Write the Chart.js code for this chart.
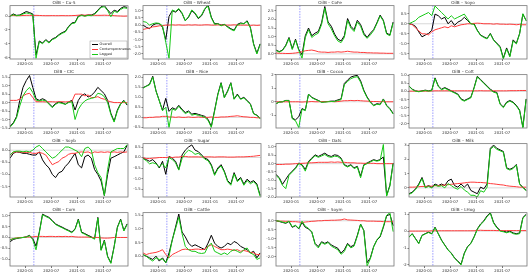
<!DOCTYPE html>
<html>
<head>
<meta charset="utf-8">
<script src="https://cdn.jsdelivr.net/npm/chart.js@4"></script>
<style>
  body { margin: 0; background: #fff; }
  #grid { position: relative; width: 532px; height: 276px; }
  #grid canvas { position: absolute; }
</style>
</head>
<body>
<div id="grid"></div>
<script>
// sample dates, in months since 2020-01
var months = [-3.5, -2.75, -2, -1.25, -0.5, 0.25, 1, 1.75, 2.5, 3.25, 4, 4.75, 5.5, 6.25, 7, 7.75, 8.5, 9.25, 10,
  10.75, 11.5, 12.25, 13, 13.75, 14.5, 15.25, 16, 16.75, 17.5, 18.25, 19, 19.75, 20.5, 21.25, 22, 22.75, 23.5];
var xTicks = [0, 6, 12, 18];
var xTickLabels = ["2020-01", "2020-07", "2021-01", "2021-07"];
var shockMonth = 2.0;
var seriesNames = ["Overall", "Contemporaneous", "Lagged"];

// OilB - Cu-S
var cusOverall = [0.0, 0.3, 0.1, 0.15, 0.4, 0.65, 0.5, 0.3, -5.6, -3.6, -3.9, -3.4, -3.8, -3.3, -3.1, -2.7, -2.4, -2.2, -1.5, -1.0, -0.9, 0.0, 0.15, 0.05, 0.15, 0.15, 0.35, 0.85, 1.35, 1.5, 0.9, 0.35, 0.85, 0.65, 1.1, 1.35, 1.25];
var cusContemp = [0.05, 0.08, 0.05, 0.05, 0.08, 0.1, 0.1, 0.08, 0.1, 0.08, 0.06, 0.05, 0.05, 0.06, 0.05, 0.05, 0.06, 0.05, 0.05, 0.06, 0.08, 0.12, 0.15, 0.12, 0.15, 0.12, 0.1, 0.1, 0.1, 0.12, 0.1, 0.08, 0.05, 0.02, 0.0, -0.02, 0.0];
var cusLagged = [-0.05, 0.2, 0.05, 0.1, 0.3, 0.45, 0.35, 0.2, -6.1, -3.7, -4.0, -3.5, -3.9, -3.4, -3.2, -2.8, -2.5, -2.3, -1.6, -1.1, -1.0, -0.1, 0.1, -0.05, 0.1, 0.05, 0.25, 0.75, 1.25, 1.35, 0.8, -0.1, 0.7, 0.5, 0.95, 1.2, 1.1];

// OilB - Wheat
var wheatOverall = [0.0, -0.15, -0.25, 0.0, 0.1, 0.1, -0.15, -1.0, 0.6, 1.0, 0.9, 1.1, 0.8, 0.3, 0.55, 1.0, 0.8, 0.45, 0.65, 1.1, 1.4, 0.55, 0.1, 0.1, 0.0, 0.05, -0.1, -0.25, -0.35, 0.05, 0.15, 0.1, 0.3, -0.15, -1.3, -1.95, -1.3];
var wheatContemp = [-0.3, -0.25, -0.2, -0.12, -0.1, -0.05, -0.03, 0.0, 0.0, 0.02, 0.0, 0.02, 0.0, 0.0, 0.02, 0.0, 0.02, 0.0, 0.0, 0.02, 0.02, 0.0, 0.0, 0.02, 0.0, 0.0, 0.0, 0.0, 0.02, 0.0, 0.0, 0.0, 0.0, -0.02, 0.0, -0.02, 0.0];
var wheatLagged = [0.25, 0.2, 0.0, 0.1, 0.15, 0.12, -0.05, -1.2, -2.3, 1.05, 0.95, 1.15, 0.85, 0.3, 0.6, 1.05, 0.85, 0.5, 0.7, 1.15, 1.3, 0.5, 0.05, 0.1, -0.05, 0.05, -0.15, -0.3, -0.4, 0.0, 0.1, 0.1, 0.25, -0.2, -1.35, -2.0, -1.35];

// OilB - CoFe
var cofeOverall = [0.22, 0.13, 0.22, 0.5, 0.95, 0.3, 0.85, 0.25, -0.05, 1.05, 1.5, 1.05, 1.2, 1.3, 1.8, 2.75, 1.85, 1.6, 1.15, 0.85, 0.75, 1.05, 2.05, 1.6, 1.4, 1.95, 1.7, 1.2, 0.95, 1.2, 1.4, 1.8, 2.25, 1.95, 1.2, 1.1, 1.85];
var cofeContemp = [0.05, 0.03, 0.03, 0.02, 0.02, 0.03, 0.05, 0.08, 0.12, 0.18, 0.2, 0.22, 0.18, 0.12, 0.1, 0.1, 0.08, 0.1, 0.1, 0.12, 0.1, 0.12, 0.15, 0.12, 0.1, 0.1, 0.08, 0.08, 0.06, 0.06, 0.05, 0.05, 0.04, 0.04, 0.03, 0.03, 0.03];
var cofeLagged = [0.2, 0.1, 0.2, 0.45, 0.9, 0.25, 0.8, 0.2, -0.25, 0.95, 1.4, 0.95, 1.1, 1.2, 1.7, 2.65, 1.75, 1.45, 1.05, 0.75, 0.65, 0.95, 1.95, 1.5, 1.3, 1.85, 1.6, 1.1, 0.9, 1.1, 1.35, 1.75, 2.2, 1.9, 1.15, 1.05, 1.8];

// OilB - Soyo
var soyoOverall = [0.0, -0.03, -0.13, -0.4, -0.65, -0.56, -0.48, -0.32, 0.48, 0.4, 0.24, 0.32, 0.0, 0.16, -0.08, 0.08, 0.16, 0.32, 0.16, 0.0, 0.0, -0.32, -0.56, -0.65, -0.73, -0.48, -0.8, -0.97, -1.13, -1.7, -1.2, -1.6, -0.8, -0.97, -0.48, 0.48, 0.16];
var soyoContemp = [0.0, -0.05, -0.2, -0.35, -0.5, -0.5, -0.55, -0.4, -0.3, -0.25, -0.2, -0.15, -0.2, -0.1, -0.15, -0.1, -0.05, -0.03, 0.0, 0.0, 0.02, 0.03, 0.02, 0.0, 0.0, 0.0, -0.02, 0.0, -0.02, -0.02, -0.03, -0.02, -0.03, -0.05, -0.03, -0.05, -0.05];
var soyoLagged = [0.0, 0.08, 0.16, 0.32, 0.4, 0.48, 0.56, 0.4, 0.88, 0.72, 0.56, 0.4, 0.24, 0.4, 0.24, 0.32, 0.4, 0.48, 0.24, 0.0, -0.03, -0.35, -0.58, -0.68, -0.75, -0.5, -0.82, -1.0, -1.18, -1.75, -1.25, -1.65, -0.85, -1.0, -0.5, 0.5, 0.15];

// OilB - CIC
var cicOverall = [-1.4, -1.2, -0.83, 0.13, 0.9, 1.3, 1.6, 0.9, 0.23, 0.13, 0.23, 0.13, -0.06, -0.25, -0.06, 0.04, 0.0, -0.1, 0.04, 0.13, -0.44, 0.13, 0.42, 0.52, 0.33, 0.42, 0.62, 0.9, 0.71, 0.52, 0.13, -0.63, -1.1, -0.44, -0.06, 0.13, -0.15];
var cicContemp = [0.13, 0.13, 0.13, 0.2, 0.4, 0.5, 0.55, 0.3, 0.05, 0.05, 0.05, 0.04, 0.05, 0.05, 0.04, 0.05, 0.05, 0.04, 0.05, 0.06, 0.5, 0.5, 0.5, 0.4, 0.45, 0.3, 0.3, 0.35, 0.25, 0.2, 0.1, 0.05, 0.0, 0.0, 0.0, 0.0, 0.0];
var cicLagged = [-1.45, -1.25, -0.9, -0.2, 0.4, 0.7, 0.9, 0.6, 0.15, 0.1, 0.15, 0.1, -0.1, -0.3, -0.1, 0.0, -0.05, -0.1, 0.0, 0.05, -1.0, -0.4, -0.1, 0.1, 0.2, 0.25, 0.3, 0.55, 0.5, 0.35, 0.0, -0.7, -1.15, -0.5, -0.1, 0.1, -0.1];

// OilB - Rice
var riceOverall = [1.48, 1.56, 1.65, 2.05, 1.32, 0.84, 0.35, 0.95, 0.3, 0.48, 0.4, 0.6, 0.4, 0.24, 0.32, 0.16, 0.2, 0.15, 0.1, 0.05, -0.1, -0.45, 0.35, 1.16, 1.73, 1.0, 1.32, 1.73, 0.92, 1.16, 0.92, 1.0, 0.84, 0.68, 0.19, 0.11, -0.05];
var riceContemp = [-0.02, -0.02, 0.0, 0.0, 0.02, 0.02, 0.05, 0.05, 0.02, 0.02, 0.0, 0.02, 0.0, 0.0, 0.02, 0.0, 0.0, 0.02, 0.0, 0.0, 0.0, 0.02, 0.0, 0.0, 0.02, 0.02, 0.03, 0.05, 0.06, 0.08, 0.05, 0.03, 0.02, 0.0, 0.0, -0.02, -0.02];
var riceLagged = [1.45, 1.55, 1.62, 2.0, 1.3, 0.82, 0.33, 0.5, -0.5, 0.42, 0.35, 0.55, 0.35, 0.19, 0.27, 0.11, 0.15, 0.1, 0.06, 0.0, -0.15, -0.5, 0.3, 1.12, 1.7, 0.97, 1.28, 1.7, 0.9, 1.12, 0.9, 0.97, 0.8, 0.65, 0.17, 0.1, -0.07];

// OilB - Cocoa
var cocoaOverall = [-0.14, -0.02, 0.0, 0.1, 0.1, -1.2, -1.33, -1.1, -0.5, -0.62, 0.57, 0.33, 0.21, 0.1, -0.02, 0.0, 0.02, 0.05, 0.05, 0.14, 0.21, 1.35, 1.6, 1.82, 1.9, 1.95, 1.55, 0.85, 0.35, 0.0, -0.26, -0.14, -0.18, 0.21, -0.26, -0.5, -0.86];
var cocoaContemp = [0.0, 0.0, 0.0, 0.0, 0.0, 0.0, 0.0, 0.0, -0.02, 0.0, 0.0, 0.02, 0.0, 0.0, 0.02, 0.0, 0.02, 0.02, 0.0, 0.02, 0.05, 0.08, 0.08, 0.1, 0.08, 0.1, 0.08, 0.06, 0.05, 0.03, 0.02, 0.02, 0.0, 0.02, 0.0, 0.0, 0.0];
var cocoaLagged = [-0.14, -0.02, 0.0, 0.1, 0.08, -1.25, -1.4, -1.9, -0.55, -0.65, 0.55, 0.3, 0.18, 0.08, -0.04, -0.02, 0.0, 0.02, 0.02, 0.1, 0.15, 1.25, 1.5, 1.7, 1.8, 1.85, 1.45, 0.78, 0.3, -0.05, -0.3, -0.18, -0.22, 0.18, -0.3, -0.55, -0.9];

// OilB - Cott
var cottOverall = [0.34, 0.14, 0.04, 0.0, 0.04, 0.08, 0.04, 0.08, 0.84, 0.34, 0.14, 0.24, 0.14, 0.04, -0.06, -0.16, -0.46, -0.56, -0.46, -0.36, 0.24, 0.94, 0.74, 0.54, 0.34, 0.14, 0.0, -0.06, -0.76, -0.96, -0.66, -0.56, -0.66, -0.86, -1.16, -2.2, -0.46];
var cottContemp = [0.02, 0.02, 0.02, 0.02, 0.02, 0.02, 0.02, 0.03, 0.04, 0.04, 0.04, 0.04, 0.04, 0.04, 0.04, 0.04, 0.04, 0.04, 0.04, 0.04, 0.04, 0.04, 0.05, 0.04, 0.04, 0.04, 0.04, 0.04, 0.04, 0.04, 0.04, 0.05, 0.05, 0.05, 0.06, 0.06, 0.06];
var cottLagged = [0.32, 0.12, 0.02, -0.02, 0.02, 0.06, 0.02, 0.05, 0.8, 0.3, 0.1, 0.2, 0.1, 0.0, -0.1, -0.2, -0.5, -0.6, -0.5, -0.4, 0.2, 0.9, 0.7, 0.5, 0.3, 0.1, -0.05, -0.1, -0.8, -1.0, -0.7, -0.6, -0.7, -0.9, -1.2, -2.25, -0.5];

// OilB - Soyb
var soybOverall = [-0.33, -0.13, -0.07, -0.09, -0.13, -0.13, -0.17, -0.2, -0.2, -0.07, -0.4, -0.6, -0.73, -1.0, -1.13, -0.93, -0.87, -0.67, -0.53, -0.33, -0.13, -0.6, -0.73, -0.27, -0.2, -0.33, -0.8, -1.0, -1.27, -1.87, -1.0, -0.33, -0.27, -0.2, -0.13, -0.07, 0.2];
var soybContemp = [-0.2, -0.09, -0.07, -0.07, -0.09, -0.09, -0.09, -0.13, -0.13, -0.09, -0.13, -0.2, -0.4, -0.6, -0.53, -0.47, -0.33, -0.27, -0.17, -0.13, -0.13, -0.09, -0.07, -0.09, -0.07, -0.13, -0.07, -0.09, -0.07, -0.09, -0.07, -0.09, -0.07, -0.09, -0.07, -0.09, -0.07];
var soybLagged = [-0.2, -0.07, -0.04, -0.04, -0.07, -0.04, -0.07, 0.0, 0.13, 0.2, 0.07, -0.07, -0.2, -0.33, -0.27, -0.13, 0.0, 0.13, 0.13, 0.07, 0.0, -0.07, -0.27, 0.07, 0.13, 0.0, -0.6, -0.93, -1.13, -1.87, -0.8, -0.07, 0.0, 0.07, 0.07, 0.07, 0.23];

// OilB - Sugar
var sugarOverall = [-0.03, -0.1, -0.18, -0.1, -0.26, -0.5, -0.18, -0.8, 0.05, -0.03, -0.18, -0.57, 0.12, 0.35, 0.5, 0.6, 0.35, 0.28, 0.12, -0.03, -0.1, -0.34, -0.8, -0.5, -0.34, -0.65, -1.1, -1.26, -0.72, -1.1, -0.95, -1.26, -1.03, -1.18, -1.1, -1.26, -1.8];
var sugarContemp = [0.0, -0.05, -0.05, -0.03, -0.02, 0.0, 0.0, 0.0, 0.02, 0.0, 0.02, 0.02, 0.05, 0.05, 0.03, 0.03, 0.03, 0.03, 0.02, 0.03, 0.03, 0.03, 0.02, 0.03, 0.03, 0.03, 0.02, 0.02, 0.02, 0.03, 0.03, 0.03, 0.04, 0.05, 0.06, 0.08, 0.1];
var sugarLagged = [-0.05, -0.15, -0.3, -0.25, -0.3, -0.45, -0.3, -0.5, 0.0, -0.1, -0.25, -0.6, -0.05, 0.2, 0.35, 0.28, 0.15, 0.2, 0.08, -0.08, -0.15, -0.4, -0.85, -0.55, -0.4, -0.7, -1.15, -1.32, -0.78, -1.15, -1.0, -1.32, -1.1, -1.25, -1.15, -1.32, -1.85];

// OilB - Oats
var oatsOverall = [-0.65, -0.84, -1.24, -0.94, -0.65, -0.45, -0.25, 0.04, -0.06, -0.35, 0.14, 0.33, 0.53, 0.43, 0.53, 0.63, 0.49, 0.43, 0.53, 0.49, 0.33, -0.06, -0.16, -0.06, -0.25, -0.16, -0.75, -0.06, 0.04, 0.14, 0.24, 0.18, 0.24, 0.4, -1.9, -1.3, 0.04];
var oatsContemp = [-0.05, -0.05, -0.05, -0.03, -0.03, -0.02, 0.0, 0.0, 0.02, 0.03, 0.05, 0.05, 0.06, 0.08, 0.08, 0.08, 0.08, 0.1, 0.08, 0.1, 0.08, 0.08, 0.06, 0.05, 0.05, 0.03, 0.03, 0.02, 0.02, 0.02, 0.02, 0.0, 0.0, 0.0, 0.0, 0.0, 0.0];
var oatsLagged = [-0.7, -0.9, -1.3, -1.5, -0.7, -0.5, -0.3, 0.0, -0.1, -0.45, 0.08, 0.28, 0.48, 0.38, 0.46, 0.55, 0.42, 0.38, 0.45, 0.42, 0.28, -0.1, -0.2, -0.1, -0.3, -0.2, -0.85, -0.1, 0.0, 0.1, 0.2, 0.15, 0.2, 1.15, -1.95, -1.35, 0.0];

// OilB - Milk
var milkOverall = [-0.41, -0.3, -0.07, 0.27, 0.73, 0.05, 0.16, 0.05, 0.27, 0.16, 0.27, 0.16, 0.5, 0.61, 0.16, 0.05, 0.27, 0.05, 0.27, -0.18, -0.3, -0.41, 0.05, -0.07, 0.27, 2.77, 3.0, 2.77, 2.66, 2.55, 1.41, 1.3, 1.41, 1.64, 0.27, 0.05, -0.18];
var milkContemp = [0.05, 0.05, 0.06, 0.08, 0.1, 0.1, 0.12, 0.12, 0.15, 0.15, 0.18, 0.2, 0.22, 0.25, 0.28, 0.3, 0.32, 0.35, 0.38, 0.4, 0.4, 0.38, 0.38, 0.36, 0.34, 0.3, 0.28, 0.25, 0.22, 0.2, 0.15, 0.12, 0.1, 0.08, 0.05, 0.05, 0.05];
var milkLagged = [-0.45, -0.35, -0.12, 0.2, 0.65, 0.0, 0.1, 0.0, 0.2, 0.1, 0.15, 0.0, 0.3, 0.16, 0.0, -0.1, 0.1, -0.15, -0.3, -0.52, -0.52, -0.64, -0.2, -0.3, 0.05, 2.7, 2.9, 2.7, 2.6, 2.5, 1.35, 1.25, 1.35, 1.6, 0.25, 0.02, -0.2];

// OilB - Corn
var cornOverall = [-0.2, -0.09, -0.05, -0.02, 0.0, 0.03, 0.1, -0.05, -0.4, 0.25, 1.08, 1.0, 0.93, 0.78, 0.63, 0.55, 0.48, 0.4, 0.33, 0.25, 0.4, 0.85, 0.25, 0.18, 0.1, 0.03, -0.05, 0.93, -0.57, -0.12, -0.87, -1.17, -0.42, 0.48, 0.85, 0.33, 0.63];
var cornContemp = [-0.1, -0.05, -0.02, 0.0, 0.0, 0.02, 0.02, 0.03, 0.05, 0.05, 0.05, 0.04, 0.05, 0.05, 0.04, 0.05, 0.04, 0.05, 0.04, 0.05, 0.03, 0.02, 0.02, 0.02, 0.02, 0.0, 0.0, 0.0, -0.02, -0.03, -0.03, -0.02, 0.0, 0.0, 0.0, 0.0, 0.0];
var cornLagged = [-0.12, -0.05, -0.03, -0.02, 0.0, 0.02, 0.08, -0.1, -0.57, 0.2, 1.05, 0.97, 0.9, 0.75, 0.6, 0.52, 0.45, 0.37, 0.3, 0.22, 0.37, 0.82, 0.22, 0.15, 0.07, 0.0, -0.08, 0.9, -0.6, -0.15, -0.9, -1.2, -0.45, 0.45, 0.82, 0.3, 0.6];

// OilB - Cattle
var cattleOverall = [0.06, 0.0, -0.06, -0.12, 0.0, -0.18, -0.06, -0.24, 0.12, 0.6, 1.07, 1.55, 0.89, 0.71, 0.48, 0.36, 0.42, 0.36, 0.3, 0.24, 0.48, 0.77, 0.48, 0.36, 0.3, 0.36, 0.48, 0.42, 0.54, 0.48, 0.36, 0.3, 0.24, 0.12, 0.18, -0.06, 0.12];
var cattleContemp = [0.12, 0.06, 0.1, 0.12, 0.14, 0.18, 0.24, 0.06, -0.06, 0.06, 0.12, 0.18, 0.24, 0.26, 0.24, 0.24, 0.26, 0.26, 0.24, 0.26, 0.36, 0.42, 0.36, 0.3, 0.24, 0.24, 0.26, 0.24, 0.21, 0.24, 0.18, 0.21, 0.18, 0.14, 0.12, 0.06, 0.06];
var cattleLagged = [0.06, 0.0, -0.1, -0.18, -0.06, -0.12, -0.1, -0.24, 0.0, 0.6, 1.01, 1.43, 0.83, 0.36, 0.24, 0.18, 0.18, 0.12, 0.1, 0.12, 0.36, 0.48, 0.18, 0.12, 0.06, 0.12, 0.06, 0.18, 0.24, 0.18, 0.12, 0.24, 0.3, 0.12, 0.06, -0.12, -0.06];

// OilB - Soym
var soymOverall = [0.0, -0.04, -0.09, -0.14, -0.04, -0.36, -0.27, -0.45, -0.09, -0.36, -0.45, -0.63, -1.25, -1.43, -1.16, -1.25, -1.16, -1.34, -1.43, -1.52, -1.79, -1.6, -1.25, -1.43, -1.34, -0.8, -0.18, -0.54, -2.32, -2.05, -1.43, -1.07, -0.89, -0.36, 0.27, 0.36, -0.27];
var soymContemp = [0.0, -0.02, -0.02, -0.03, -0.03, -0.05, -0.05, -0.07, -0.09, -0.07, -0.05, -0.03, -0.02, 0.0, 0.0, 0.02, 0.02, 0.03, 0.03, 0.04, 0.05, 0.1, 0.05, 0.04, 0.03, 0.02, 0.0, 0.0, -0.02, -0.02, -0.02, -0.03, -0.03, -0.05, -0.05, -0.05, -0.05];
var soymLagged = [0.0, -0.02, -0.07, -0.12, -0.02, -0.33, -0.25, -0.42, -0.02, -0.3, -0.42, -0.6, -1.3, -1.5, -1.2, -1.3, -1.2, -1.4, -1.5, -1.6, -1.85, -1.7, -1.3, -1.5, -1.4, -0.85, -0.2, -0.55, -2.5, -2.1, -1.45, -1.05, -0.85, -0.3, 0.3, 0.45, -0.6];

// OilB - LHog
var lhogOverall = [-0.34, -0.15, -0.44, -0.72, -0.25, -0.15, -0.06, -0.15, 0.23, -0.15, -0.53, -0.82, -1.1, -1.3, -1.58, -1.77, -1.96, -1.3, -0.91, -0.72, -0.34, 0.13, 0.42, 0.61, 0.9, 1.09, 0.51, 0.23, 0.04, 0.0, -0.06, 0.0, -0.11, -0.15, -0.11, 0.8, 0.99];
var lhogContemp = [0.0, 0.0, 0.0, 0.0, 0.0, 0.0, 0.0, 0.02, 0.02, 0.02, 0.02, 0.02, 0.02, 0.02, 0.02, 0.02, 0.02, 0.02, 0.02, 0.02, 0.02, 0.04, 0.05, 0.04, 0.04, 0.04, 0.04, 0.03, 0.03, 0.03, 0.03, 0.03, 0.03, 0.03, 0.03, 0.03, 0.03];
var lhogLagged = [-0.36, -0.17, -0.46, -0.74, -0.27, -0.17, -0.08, -0.17, 0.2, -0.17, -0.55, -0.84, -1.12, -1.32, -1.6, -1.8, -2.0, -1.32, -0.93, -0.74, -0.36, 0.1, 0.38, 0.57, 0.86, 1.05, 0.47, 0.19, 0.0, -0.04, -0.1, -0.04, -0.15, -0.19, -0.15, 0.76, 0.95];

var panels = [
  { title: "OilB – Cu-S", s: [cusOverall, cusContemp, cusLagged], yMin: -6.2, yMax: 1.5, yTicks: [-6, -4, -2, 0], dec: 0 },
  { title: "OilB – Wheat", s: [wheatOverall, wheatContemp, wheatLagged], yMin: -2.35, yMax: 1.35, yTicks: [-2, -1.5, -1, -0.5, 0, 0.5, 1], dec: 1 },
  { title: "OilB – CoFe", s: [cofeOverall, cofeContemp, cofeLagged], yMin: -0.3, yMax: 2.8, yTicks: [0, 0.5, 1, 1.5, 2, 2.5], dec: 1 },
  { title: "OilB – Soyo", s: [soyoOverall, soyoContemp, soyoLagged], yMin: -1.75, yMax: 0.9, yTicks: [-1.5, -1, -0.5, 0, 0.5], dec: 1 },
  { title: "OilB – CIC", s: [cicOverall, cicContemp, cicLagged], yMin: -1.5, yMax: 1.65, yTicks: [-1.5, -1, -0.5, 0, 0.5, 1, 1.5], dec: 1 },
  { title: "OilB – Rice", s: [riceOverall, riceContemp, riceLagged], yMin: -0.53, yMax: 2.13, yTicks: [-0.5, 0, 0.5, 1, 1.5, 2], dec: 1 },
  { title: "OilB – Cocoa", s: [cocoaOverall, cocoaContemp, cocoaLagged], yMin: -1.93, yMax: 2.0, yTicks: [-1, 0, 1, 2], dec: 0 },
  { title: "OilB – Cott", s: [cottOverall, cottContemp, cottLagged], yMin: -2.26, yMax: 1.04, yTicks: [-2, -1.5, -1, -0.5, 0, 0.5, 1], dec: 1 },
  { title: "OilB – Soyb", s: [soybOverall, soybContemp, soybLagged], yMin: -1.93, yMax: 0.27, yTicks: [-1.5, -1, -0.5, 0], dec: 1 },
  { title: "OilB – Sugar", s: [sugarOverall, sugarContemp, sugarLagged], yMin: -1.88, yMax: 0.66, yTicks: [-1.5, -1, -0.5, 0, 0.5], dec: 1 },
  { title: "OilB – Oats", s: [oatsOverall, oatsContemp, oatsLagged], yMin: -2.0, yMax: 1.2, yTicks: [-2, -1.5, -1, -0.5, 0, 0.5, 1], dec: 1 },
  { title: "OilB – Milk", s: [milkOverall, milkContemp, milkLagged], yMin: -0.64, yMax: 3.1, yTicks: [0, 1, 2, 3], dec: 0 },
  { title: "OilB – Corn", s: [cornOverall, cornContemp, cornLagged], yMin: -1.32, yMax: 1.15, yTicks: [-1, -0.5, 0, 0.5, 1], dec: 1 },
  { title: "OilB – Cattle", s: [cattleOverall, cattleContemp, cattleLagged], yMin: -0.36, yMax: 1.6, yTicks: [0, 0.5, 1, 1.5], dec: 1 },
  { title: "OilB – Soym", s: [soymOverall, soymContemp, soymLagged], yMin: -2.5, yMax: 0.45, yTicks: [-2, -1.5, -1, -0.5, 0], dec: 1 },
  { title: "OilB – LHog", s: [lhogOverall, lhogContemp, lhogLagged], yMin: -2.06, yMax: 1.09, yTicks: [-2, -1, 0, 1], dec: 0 }
];

var lineColors = ["#000000", "#ff3b3b", "#16c916"];
var drawOrder = [3, 2, 1]; // lagged on top

// zero line, shock line, frame and the small key in the first panel
var panelDeco = {
  id: "panelDeco",
  beforeDatasetsDraw: function (chart) {
    var a = chart.chartArea, ctx = chart.ctx;
    var y0 = chart.scales.y.getPixelForValue(0);
    var xs = chart.scales.x.getPixelForValue(shockMonth);
    ctx.save();
    ctx.strokeStyle = "#cfcfcf";
    ctx.lineWidth = 0.8;
    ctx.beginPath(); ctx.moveTo(a.left, y0); ctx.lineTo(a.right, y0); ctx.stroke();
    ctx.strokeStyle = "#8080ff";
    ctx.setLineDash([1.5, 1.2]);
    ctx.beginPath(); ctx.moveTo(xs, a.top); ctx.lineTo(xs, a.bottom); ctx.stroke();
    ctx.restore();
  },
  afterDraw: function (chart, args, opts) {
    var a = chart.chartArea, ctx = chart.ctx;
    ctx.save();
    ctx.strokeStyle = "#777";
    ctx.lineWidth = 0.8;
    ctx.strokeRect(a.left, a.top, a.right - a.left, a.bottom - a.top);
    if (opts.showKey) {
      var w = 37, h = 17, bx = a.right - w - 1, by = a.bottom - h - 1;
      ctx.fillStyle = "#fff";
      ctx.fillRect(bx, by, w, h);
      ctx.strokeStyle = "#999";
      ctx.lineWidth = 0.5;
      ctx.strokeRect(bx, by, w, h);
      ctx.font = "3.4px 'DejaVu Sans'";
      ctx.textBaseline = "middle";
      chart.data.datasets.forEach(function (ds, i) {
        var yy = by + 3.5 + i * 5;
        ctx.strokeStyle = ds.borderColor;
        ctx.lineWidth = 1;
        ctx.beginPath(); ctx.moveTo(bx + 2, yy); ctx.lineTo(bx + 8, yy); ctx.stroke();
        ctx.fillStyle = "#222";
        ctx.fillText(ds.label, bx + 9.5, yy);
      });
    }
    ctx.restore();
  }
};

var grid = document.getElementById("grid");

panels.forEach(function (p, k) {
  var cv = document.createElement("canvas");
  cv.width = 133;
  cv.height = 69;
  cv.style.left = (k % 4) * 133 + "px";
  cv.style.top = Math.floor(k / 4) * 69 + "px";
  grid.appendChild(cv);

  var datasets = p.s.map(function (vals, j) {
    return {
      label: seriesNames[j],
      data: vals.map(function (v, i) { return { x: months[i], y: v }; }),
      borderColor: lineColors[j],
      borderWidth: 1,
      pointRadius: 0,
      tension: 0,
      order: drawOrder[j]
    };
  });

  new Chart(cv, {
    type: "line",
    data: { datasets: datasets },
    plugins: [panelDeco],
    options: {
      responsive: false,
      animation: false,
      devicePixelRatio: 1,
      layout: { padding: { left: 0, right: 5, top: 0, bottom: 0 } },
      plugins: {
        legend: { display: false },
        tooltip: { enabled: false },
        title: {
          display: true,
          text: p.title,
          color: "#333",
          font: { size: 4.2, family: "'DejaVu Sans'", weight: "normal" },
          padding: { top: 0, bottom: 0.6 }
        },
        panelDeco: { showKey: k === 0 }
      },
      scales: {
        x: {
          type: "linear",
          min: -3.5,
          max: 23.7,
          afterBuildTicks: function (s) {
            s.ticks = xTicks.map(function (v) { return { value: v }; });
          },
          afterFit: function (s) { s.height = 10; },
          ticks: {
            autoSkip: false,
            maxRotation: 0,
            padding: 1,
            color: "#333",
            font: { size: 3.8, family: "'DejaVu Sans'" },
            callback: function (v) { return xTickLabels[xTicks.indexOf(v)]; }
          },
          grid: { drawOnChartArea: false, drawTicks: true, tickLength: 2, color: "#777" },
          border: { display: false }
        },
        y: {
          min: p.yMin,
          max: p.yMax,
          afterBuildTicks: function (s) {
            s.ticks = p.yTicks.map(function (v) { return { value: v }; });
          },
          afterFit: function (s) { s.width = 10; },
          ticks: {
            autoSkip: false,
            padding: 0.8,
            color: "#333",
            font: { size: 3.8, family: "'DejaVu Sans'" },
            callback: function (v) { return v.toFixed(p.dec); }
          },
          grid: { drawOnChartArea: false, drawTicks: true, tickLength: 1.5, color: "#777" },
          border: { display: false }
        }
      }
    }
  });
});
</script>
</body>
</html>
